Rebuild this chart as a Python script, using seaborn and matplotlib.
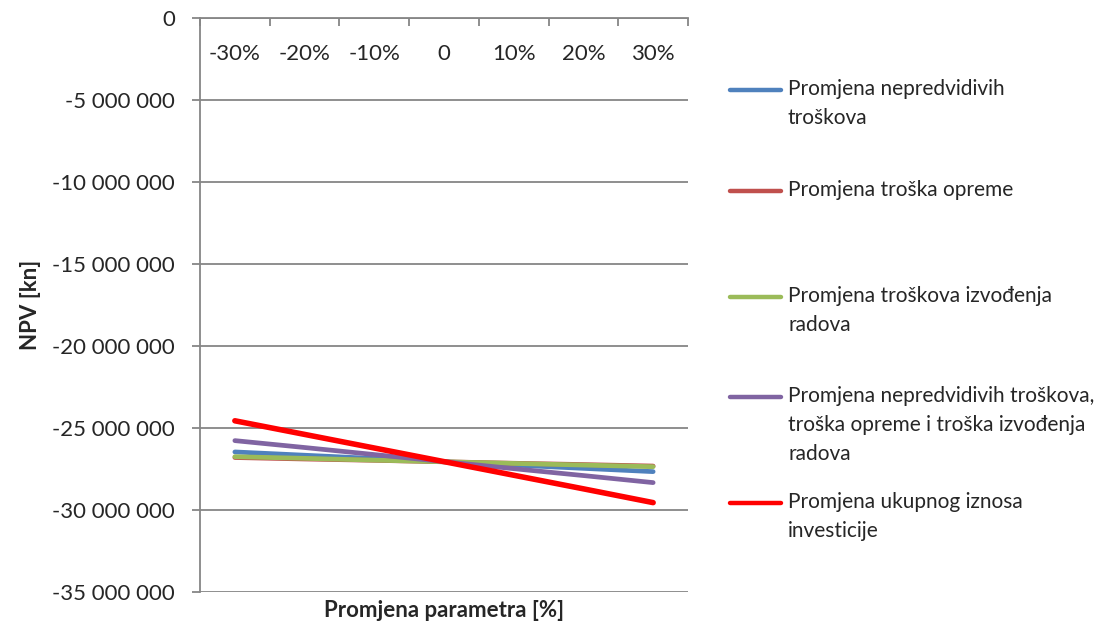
import numpy as np
import pandas as pd
import matplotlib
matplotlib.use("Agg")
import matplotlib.pyplot as plt
import seaborn as sns
from matplotlib.lines import Line2D
from matplotlib.ticker import FuncFormatter, FixedLocator

# podaci procijenjeni sa slike (NPV u kn)
kategorije = ["-30%", "-20%", "-10%", "0", "10%", "20%", "30%"]
nepredvidivi = [-26.46e6, -26.66e6, -26.86e6, -27.06e6, -27.26e6, -27.46e6, -27.66e6]
oprema = [-26.80e6, -26.89e6, -26.97e6, -27.06e6, -27.15e6, -27.23e6, -27.32e6]
izvodenje = [-26.75e6, -26.85e6, -26.96e6, -27.06e6, -27.16e6, -27.26e6, -27.36e6]
kombinirano = [-25.77e6, -26.19e6, -26.62e6, -27.05e6, -27.48e6, -27.90e6, -28.33e6]
ukupno = [-24.56e6, -25.39e6, -26.22e6, -27.05e6, -27.88e6, -28.71e6, -29.55e6]

nazivi = [
    "Promjena nepredvidivih\ntroškova",
    "Promjena troška opreme",
    "Promjena troškova izvođenja\nradova",
    "Promjena nepredvidivih troškova,\ntroška opreme i troška izvođenja\nradova",
    "Promjena ukupnog iznosa\ninvesticije",
]
boje = ["#4F81BD", "#C0504D", "#9BBB59", "#8064A2", "#FF0000"]
debljine = [3.4, 3.4, 3.4, 3.4, 4.0]

serije = [nepredvidivi, oprema, izvodenje, kombinirano, ukupno]
df = pd.concat([
    pd.DataFrame({"x": np.arange(len(kategorije)), "npv": v, "serija": n})
    for n, v in zip(nazivi, serije)
])

sns.set_style("white")
plt.rcParams['font.family'] = ['Lato', 'DejaVu Sans']
fs = 16

fig = plt.figure(figsize=(11.04, 6.28), dpi=100)
ax = fig.add_axes([200 / 1104, 1 - 592 / 628, 488 / 1104, 574 / 628])

for n, c, lw in zip(nazivi, boje, debljine):
    sns.lineplot(data=df[df["serija"] == n], x="x", y="npv", color=c,
                 linewidth=lw, ax=ax, legend=False, solid_capstyle="round")

ax.set_xlim(-0.5, len(kategorije) - 0.5)
ax.set_ylim(-35e6, 0)
ax.yaxis.set_major_locator(FixedLocator(np.arange(-35e6, 1, 5e6)))
ax.yaxis.set_major_formatter(FuncFormatter(lambda v, p: f"{int(v):,}".replace(",", " ")))
ax.grid(axis="y", color="#868686", linewidth=1.3)
ax.set_axisbelow(True)

for s in ["right", "bottom"]:
    ax.spines[s].set_visible(False)
for s in ["left", "top"]:
    ax.spines[s].set_color("#868686")
    ax.spines[s].set_linewidth(1.3)

ax.tick_params(axis="y", length=6, width=1.3, color="#868686", labelsize=fs, pad=12, left=True)
ax.set_xticks(np.arange(-0.5, len(kategorije), 1.0))
ax.set_xticklabels([])
ax.tick_params(axis="x", top=True, bottom=False, direction="in", length=6,
               width=1.3, color="#868686", labeltop=False, labelbottom=False)
# oznake kategorija ispod gornje osi
for i, k in enumerate(kategorije):
    ax.annotate(k, xy=(i, 1), xycoords=("data", "axes fraction"),
                xytext=(0, -36), textcoords="offset pixels",
                ha="center", va="center", fontsize=fs)

ax.set_xlabel("Promjena parametra [%]", fontsize=fs, fontweight="bold", labelpad=6)
ax.set_ylabel("NPV [kn]", fontsize=fs, fontweight="bold", labelpad=8)

# legenda desno
prvi_red = [90, 191, 297, 397, 503]
for n, c, y in zip(nazivi, boje, prvi_red):
    fy = 1 - y / 628
    fig.add_artist(Line2D([730 / 1104, 781 / 1104], [fy, fy], color=c,
                          linewidth=3.2, solid_capstyle="round"))
    fig.text(788 / 1104, 1 - (y - 11) / 628, n, ha="left", va="top",
             fontsize=15, linespacing=1.55)

fig.savefig("out.png", dpi=100)
